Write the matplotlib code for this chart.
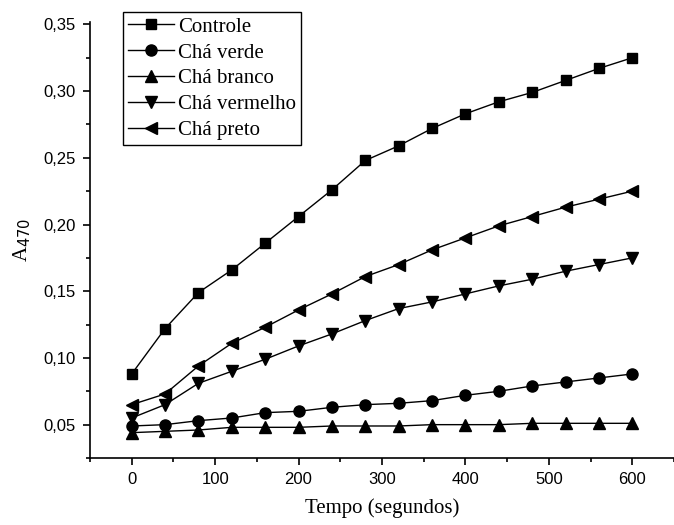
import matplotlib
matplotlib.use('Agg')
import matplotlib.pyplot as plt
from matplotlib.ticker import MultipleLocator, FuncFormatter

# Data
tempo = [0, 40, 80, 120, 160, 200, 240, 280, 320, 360, 400, 440, 480, 520, 560, 600]
controle = [0.088, 0.122, 0.149, 0.166, 0.186, 0.206, 0.226, 0.248, 0.259, 0.272,
            0.283, 0.292, 0.299, 0.308, 0.317, 0.325]
cha_verde = [0.049, 0.050, 0.053, 0.055, 0.059, 0.060, 0.063, 0.065, 0.066, 0.068,
             0.072, 0.075, 0.079, 0.082, 0.085, 0.088]
cha_branco = [0.044, 0.045, 0.046, 0.048, 0.048, 0.048, 0.049, 0.049, 0.049, 0.050,
              0.050, 0.050, 0.051, 0.051, 0.051, 0.051]
cha_vermelho = [0.055, 0.065, 0.081, 0.090, 0.099, 0.109, 0.118, 0.128, 0.137, 0.142,
                0.148, 0.154, 0.159, 0.165, 0.170, 0.175]
cha_preto = [0.065, 0.073, 0.094, 0.111, 0.123, 0.136, 0.148, 0.161, 0.170, 0.181,
             0.190, 0.199, 0.206, 0.213, 0.219, 0.225]

series = [
    ('Controle', controle, 's', 7),
    ('Chá verde', cha_verde, 'o', 8),
    ('Chá branco', cha_branco, '^', 8),
    ('Chá vermelho', cha_vermelho, 'v', 8),
    ('Chá preto', cha_preto, '<', 8),
]

fig = plt.figure(figsize=(6.74, 5.25), dpi=100)
ax = fig.add_axes([0.1335, 0.1276, 0.8665, 0.831])

for label, values, marker, ms in series:
    ax.plot(tempo, values, color='black', lw=1, marker=marker, markersize=ms,
            label=label)

ax.set_xlim(-50, 650)
ax.set_ylim(0.025, 0.352)
ax.xaxis.set_major_locator(MultipleLocator(100))
ax.xaxis.set_minor_locator(MultipleLocator(50))
ax.yaxis.set_major_locator(MultipleLocator(0.05))
ax.yaxis.set_minor_locator(MultipleLocator(0.025))
ax.yaxis.set_major_formatter(FuncFormatter(lambda v, p: f'{v:.2f}'.replace('.', ',')))

for side in ['top', 'right']:
    ax.spines[side].set_visible(False)
for side in ['left', 'bottom']:
    ax.spines[side].set_linewidth(1.2)

ax.tick_params(which='major', direction='out', length=5, width=1.2,
               labelsize=12, pad=5)
ax.tick_params(which='minor', direction='out', length=3, width=1.2)
for lbl in ax.get_xticklabels() + ax.get_yticklabels():
    lbl.set_family('Liberation Sans')

ax.set_xlabel('Tempo (segundos)', family='Liberation Serif', fontsize=15,
              labelpad=8)
ax.set_ylabel('A$_{470}$', family='Liberation Serif', fontsize=15, labelpad=8)

leg = ax.legend(loc='upper left', bbox_to_anchor=(123 / 674, 1 - 12 / 525),
                bbox_transform=fig.transFigure, borderaxespad=0,
                prop={'family': 'Liberation Serif', 'size': 15},
                fancybox=False, edgecolor='black', framealpha=1,
                handlelength=2.2, handletextpad=0.2, labelspacing=0.3,
                borderpad=0.25)
leg.get_frame().set_linewidth(1)

fig.savefig('out.png', dpi=100)
